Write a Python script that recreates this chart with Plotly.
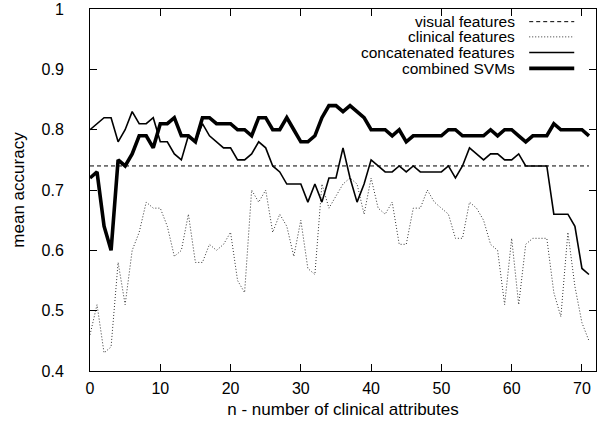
import plotly.graph_objects as go

n_attr = list(range(72))

visual = [0.74] * 72

clinical = [0.46, 0.51, 0.43, 0.44, 0.58, 0.51, 0.60, 0.63, 0.68, 0.67,
            0.67, 0.64, 0.59, 0.60, 0.66, 0.58, 0.58, 0.61, 0.60, 0.61,
            0.63, 0.55, 0.53, 0.70, 0.68, 0.70, 0.63, 0.66, 0.64, 0.59,
            0.65, 0.57, 0.56, 0.71, 0.67, 0.69, 0.71, 0.72, 0.71, 0.66,
            0.72, 0.67, 0.66, 0.68, 0.61, 0.61, 0.67, 0.67, 0.70, 0.68,
            0.67, 0.66, 0.62, 0.62, 0.68, 0.67, 0.65, 0.61, 0.60, 0.51,
            0.62, 0.51, 0.61, 0.62, 0.62, 0.62, 0.53, 0.49, 0.63, 0.54,
            0.48, 0.45]

concatenated = [0.80, 0.81, 0.82, 0.82, 0.78, 0.80, 0.83, 0.81, 0.81, 0.82,
                0.78, 0.78, 0.76, 0.75, 0.79, 0.78, 0.81, 0.79, 0.78, 0.77,
                0.77, 0.75, 0.75, 0.76, 0.78, 0.77, 0.74, 0.73, 0.71, 0.71,
                0.71, 0.68, 0.71, 0.68, 0.72, 0.72, 0.77, 0.72, 0.68, 0.71,
                0.75, 0.74, 0.73, 0.73, 0.74, 0.73, 0.74, 0.73, 0.73, 0.73,
                0.73, 0.74, 0.72, 0.74, 0.77, 0.76, 0.75, 0.76, 0.76, 0.75,
                0.75, 0.76, 0.74, 0.74, 0.74, 0.74, 0.66, 0.66, 0.66, 0.64,
                0.57, 0.56]

combined = [0.72, 0.73, 0.64, 0.60, 0.75, 0.74, 0.76, 0.79, 0.79, 0.77,
            0.81, 0.81, 0.82, 0.79, 0.79, 0.78, 0.82, 0.82, 0.81, 0.81,
            0.81, 0.80, 0.80, 0.79, 0.82, 0.82, 0.80, 0.80, 0.82, 0.80,
            0.78, 0.78, 0.79, 0.82, 0.84, 0.84, 0.83, 0.84, 0.83, 0.82,
            0.80, 0.80, 0.80, 0.79, 0.80, 0.78, 0.79, 0.79, 0.79, 0.79,
            0.79, 0.80, 0.80, 0.79, 0.79, 0.79, 0.79, 0.80, 0.79, 0.80,
            0.80, 0.79, 0.78, 0.79, 0.79, 0.79, 0.81, 0.80, 0.80, 0.80,
            0.80, 0.79]

x_ticks = [0, 10, 20, 30, 40, 50, 60, 70]
y_ticks = [0.4, 0.5, 0.6, 0.7, 0.8, 0.9, 1.0]
y_tick_labels = ["0.4", "0.5", "0.6", "0.7", "0.8", "0.9", "1"]

series = [
    ("visual features", visual, dict(color="black", width=1, dash="4px,3px")),
    ("clinical features", clinical, dict(color="#333333", width=1, dash="1px,2px")),
    ("concatenated features", concatenated, dict(color="black", width=1.6)),
    ("combined SVMs", combined, dict(color="black", width=3.6)),
]

FONT = "Liberation Sans, Arial, sans-serif"

fig = go.Figure()
for name, vals, line in series:
    fig.add_trace(go.Scatter(x=n_attr, y=vals, mode="lines", name=name,
                             line=line, showlegend=False, cliponaxis=True))

# manual legend: right-aligned text with sample line on the right
leg_y = [0.965, 0.923, 0.880, 0.836]
for (name, vals, line), yy in zip(series, leg_y):
    fig.add_annotation(x=0.842, y=yy, xref="paper", yref="paper", text=name,
                       showarrow=False, xanchor="right", yanchor="middle",
                       borderpad=0,
                       font=dict(family=FONT, size=15.5, color="black"))
    fig.add_shape(type="line", xref="paper", yref="paper",
                  x0=0.868, x1=0.957, y0=yy, y1=yy, line=line)

axis_common = dict(showline=True, linecolor="black", linewidth=1, mirror="ticks",
                   ticks="inside", ticklen=7, tickcolor="black", tickwidth=1,
                   showgrid=False, zeroline=False, automargin=False,
                   ticklabeloverflow="allow",
                   tickfont=dict(family=FONT, size=16, color="black"))

fig.update_xaxes(range=[0, 72], tickvals=x_ticks, ticklabelstandoff=3,
                 title=dict(text="n - number of clinical attributes", standoff=6,
                            font=dict(family=FONT, size=17, color="black")),
                 **axis_common)
fig.update_yaxes(range=[0.4, 1.0002], tickvals=y_ticks, ticktext=y_tick_labels,
                 ticklabelstandoff=22,
                 title=dict(text="mean accuracy", standoff=12,
                            font=dict(family=FONT, size=17, color="black")),
                 **axis_common)

fig.update_layout(width=603, height=429,
                  margin=dict(l=90, r=7, t=9, b=58),
                  paper_bgcolor="white", plot_bgcolor="white")

fig.write_html("out.html", config={"displayModeBar": False},
               post_script="document.body.style.margin='0';document.body.style.padding='0';")
